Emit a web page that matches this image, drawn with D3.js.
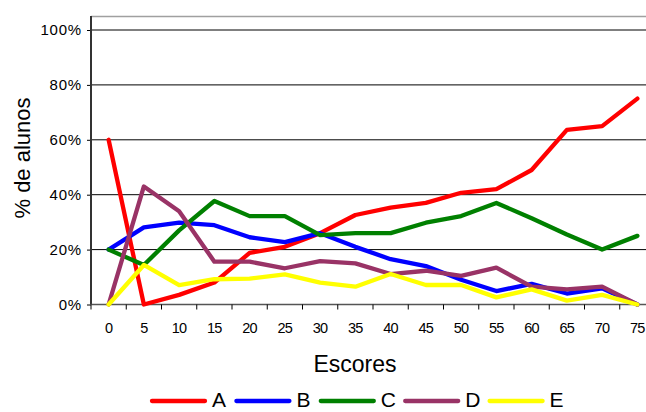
<!DOCTYPE html>
<html><head><meta charset="utf-8">
<script src="https://cdn.jsdelivr.net/npm/d3@7"></script>
<style>
html,body{margin:0;padding:0;background:#fff;}
svg{display:block;font-family:"Liberation Sans",Arial,sans-serif;}
</style></head>
<body>
<svg id="chart" width="646" height="412"></svg>
<script>
const categories = ["0","5","10","15","20","25","30","35","40","45","50","55","60","65","70","75"];
const seriesNames = ["A","B","C","D","E"];
const seriesColors = ["#FF0000","#0000FF","#008000","#993366","#FFFF00"];
const valuesA = [60, 0, 3.5, 8, 18.8, 21, 26, 32.6, 35.3, 37, 40.7, 42, 49, 63.6, 65, 75];
const valuesB = [20, 28.1, 29.8, 28.9, 24.5, 22.7, 26, 21, 16.5, 14, 9, 4.9, 7.5, 4, 5.9, 0];
const valuesC = [20, 14.4, 27, 37.7, 32.2, 32.2, 25.3, 26, 26, 29.8, 32.2, 37, 31.4, 25.5, 20, 25];
const valuesD = [0, 43, 34, 15.6, 15.6, 13.2, 15.8, 15, 11.1, 12.3, 10.4, 13.4, 6.5, 5.5, 6.5, 0];
const valuesE = [0, 14.4, 7.1, 9.2, 9.4, 11, 8, 6.5, 11.1, 7.1, 7.1, 2.6, 5.5, 1.4, 3.5, 0];
const yTicks = [0, 20, 40, 60, 80, 100];
const yTitle = "% de alunos";
const xTitle = "Escores";

const allValues = [valuesA, valuesB, valuesC, valuesD, valuesE];
const svg = d3.select("#chart");

const left = 91, plotTop = 16, bandW = 35.25;
const x = d3.scaleBand().domain(categories).range([left, left + bandW * categories.length]);
const y = d3.scaleLinear().domain([0, 100]).range([304.5, 30]);

// plot frame top (light gray)
svg.append("line").attr("x1", left).attr("x2", 646).attr("y1", plotTop + 0.5).attr("y2", plotTop + 0.5)
  .attr("stroke", "#a0a0a0").attr("stroke-width", 1.5);

// gridlines
svg.append("g").selectAll("line").data(yTicks.filter(d => d > 0)).join("line")
  .attr("x1", left).attr("x2", 646)
  .attr("y1", d => y(d)).attr("y2", d => y(d))
  .attr("stroke", "#000").attr("stroke-width", 1);

// y axis
const yAxis = d3.axisLeft(y).tickValues(yTicks).tickSize(4).tickPadding(5).tickFormat(d => d + "%");
const gy = svg.append("g").attr("transform", `translate(${left},0)`).call(yAxis);
gy.select(".domain").remove();
gy.append("line").attr("x1", 0).attr("x2", 0).attr("y1", plotTop).attr("y2", y(0)).attr("stroke", "#333").attr("stroke-width", 2);
gy.selectAll(".tick line").attr("stroke", "#000");
gy.selectAll(".tick text").attr("font-size", 15).attr("fill", "#000")
  .attr("font-family", "Liberation Sans, Arial, sans-serif").style("letter-spacing", "0.8px");

// x axis
const xAxis = d3.axisBottom(x).tickSize(0).tickPadding(18);
const gx = svg.append("g").attr("transform", `translate(0,${y(0)})`).call(xAxis);
gx.select(".domain").remove();
gx.append("line").attr("x1", left).attr("x2", 646).attr("y1", 0).attr("y2", 0).attr("stroke", "#555").attr("stroke-width", 1.5);
gx.selectAll(".tick text").attr("font-size", 14.5).attr("fill", "#000")
  .attr("font-family", "Liberation Sans, Arial, sans-serif").style("letter-spacing", "-0.6px");
// tick marks at category boundaries
gx.append("g").selectAll("line").data(categories).join("line")
  .attr("x1", d => x(d)).attr("x2", d => x(d)).attr("y1", 0).attr("y2", 5)
  .attr("stroke", "#000");

// lines
const line = d3.line().x((d, i) => x(categories[i]) + x.bandwidth() / 2).y(d => y(d));
svg.append("g").selectAll("path").data(allValues).join("path")
  .attr("d", d => line(d))
  .attr("fill", "none")
  .attr("stroke", (d, i) => seriesColors[i])
  .attr("stroke-width", 4.3)
  .attr("stroke-linejoin", "round")
  .attr("stroke-linecap", "round");

// titles
svg.append("text").attr("x", 355).attr("y", 371.5).attr("text-anchor", "middle")
  .attr("font-size", 23).text(xTitle);
svg.append("text").attr("transform", "translate(30,158) rotate(-90)").attr("text-anchor", "middle")
  .attr("font-size", 22).text(yTitle);

// legend
const legend = svg.append("g");
const items = legend.selectAll("g").data(seriesNames).join("g")
  .attr("transform", (d, i) => `translate(${152 + i * 84.4},0)`);
items.append("line").attr("x1", 0).attr("x2", 53).attr("y1", 401).attr("y2", 401)
  .attr("stroke", (d, i) => seriesColors[i]).attr("stroke-width", 4.3).attr("stroke-linecap", "round");
items.append("text").attr("x", 60).attr("y", 407).attr("font-size", 21).text(d => d);
</script>
</body></html>
